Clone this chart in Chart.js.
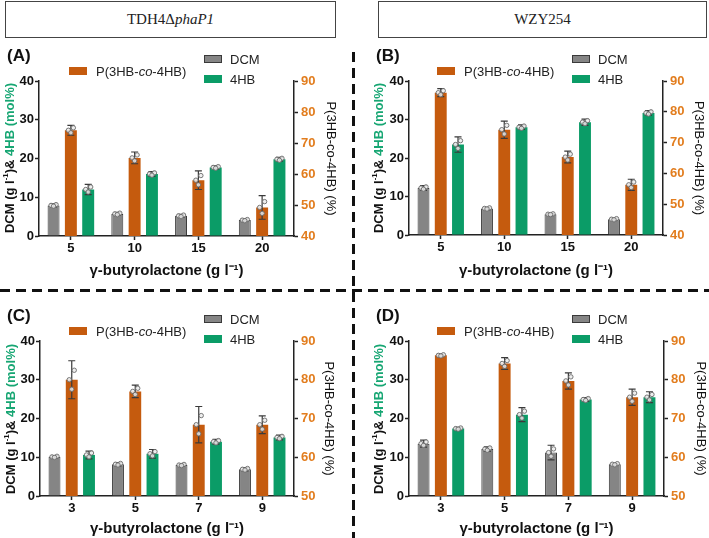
<!DOCTYPE html>
<html>
<head>
<meta charset="utf-8">
<script src="https://cdn.jsdelivr.net/npm/chart.js@4"></script>
<style>
  html,body{margin:0;padding:0;background:#fff;}
  #wrap{position:relative;width:709px;height:538px;background:#fff;overflow:hidden;font-family:'Liberation Sans',Arial,sans-serif;}
  canvas{position:absolute;}
  .hdr{position:absolute;border:1px solid #444;box-sizing:border-box;font-family:'Liberation Serif','Times New Roman',serif;font-size:15px;color:#222;display:flex;align-items:center;justify-content:center;}
  .plabel{position:absolute;font-weight:bold;font-size:17px;color:#111;}
  .ltitle{position:absolute;font-weight:bold;font-size:13px;color:#111;white-space:nowrap;transform:translate(-50%,-50%) rotate(-90deg);}
  .ltitle .g{color:#17a673;}
  .ltitle sup{font-size:8px;}
  .lbox{position:absolute;width:18px;height:8px;box-sizing:border-box;}
  .ltxt{position:absolute;font-size:13px;color:#222;white-space:nowrap;transform:translateY(-50%);}
  .vdash{position:absolute;width:3px;background:repeating-linear-gradient(to bottom,#111 0 10px,transparent 10px 16px);}
  .hdash{position:absolute;height:3px;background:repeating-linear-gradient(to right,#111 0 10px,transparent 10px 16px);}
</style>
</head>
<body>
<div id="wrap">
  <div class="hdr" style="left:5px;top:1px;width:331px;height:37px;">TDH4Δ<i>phaP1</i></div>
  <div class="hdr" style="left:378px;top:1px;width:329px;height:37px;">WZY254</div>

  <canvas id="cA" width="352" height="245" style="left:0px;top:40px;"></canvas>
  <canvas id="cB" width="339" height="245" style="left:370px;top:40px;"></canvas>
  <canvas id="cC" width="352" height="238" style="left:0px;top:300px;"></canvas>
  <canvas id="cD" width="339" height="238" style="left:370px;top:300px;"></canvas>

  <div class="vdash" style="left:352px;top:52px;height:486px;"></div>
  <div class="hdash" style="left:0px;top:289px;width:709px;"></div>
</div>
<script>
// ---------- data ----------
const dosesTop = ['5', '10', '15', '20'];
const dosesBottom = ['3', '5', '7', '9'];

// Panel A: TDH4ΔphaP1, 5-20 g/L
const dcmA = [7.9, 5.7, 5.2, 4.1];
const dcmErrA = [0.4, 0.4, 0.4, 0.3];
const phaA = [74.1, 65.2, 58.0, 49.2];
const phaErrA = [1.6, 1.9, 3.0, 3.8];
const hbA = [12.0, 16.0, 17.7, 19.8];
const hbErrA = [1.3, 0.6, 0.4, 0.5];

// Panel B: WZY254, 5-20 g/L
const dcmB = [12.2, 6.9, 5.4, 4.1];
const dcmErrB = [0.6, 0.3, 0.2, 0.3];
const phaB = [86.2, 74.2, 65.3, 56.3];
const phaErrB = [1.3, 2.8, 1.9, 1.8];
const hbB = [23.5, 28.0, 29.3, 31.7];
const hbErrB = [2.0, 0.6, 0.8, 0.6];

// Panel C: TDH4ΔphaP1, 3-9 g/L
const dcmC = [10.1, 8.2, 8.0, 6.9];
const dcmErrC = [0.3, 0.4, 0.3, 0.4];
const phaC = [80.0, 77.0, 68.4, 68.4];
const phaErrC = [4.9, 1.6, 4.7, 2.3];
const hbC = [10.6, 10.9, 14.0, 15.1];
const hbErrC = [1.0, 1.1, 0.6, 0.6];

// Panel D: WZY254, 3-9 g/L
const dcmD = [13.5, 12.1, 11.2, 8.2];
const dcmErrD = [0.9, 0.6, 1.9, 0.3];
const phaD = [86.3, 84.2, 79.7, 75.5];
const phaErrD = [0.3, 1.5, 2.1, 2.1];
const hbD = [17.4, 21.0, 24.9, 25.5];
const hbErrD = [0.3, 1.8, 0.5, 1.4];

const leftTicks = [0, 10, 20, 30, 40];

// ---------- styles ----------
const GRAY = '#858585', ORANGE = '#c55b0e', GREEN = '#0b9c67', TICKORANGE = '#e27d1e';
const FONT = "'Liberation Sans', Arial, sans-serif";

const errorBars = {
  id: 'errorBars',
  afterDatasetsDraw(chart) {
    const ctx = chart.ctx;
    chart.data.datasets.forEach((ds, i) => {
      const meta = chart.getDatasetMeta(i);
      const sc = chart.scales[ds.yAxisID];
      meta.data.forEach((bar, j) => {
        const v = ds.data[j], e = ds.errors[j];
        const x = bar.x;
        const yT = sc.getPixelForValue(v + e), yB = sc.getPixelForValue(v - e), yM = sc.getPixelForValue(v);
        ctx.save();
        ctx.strokeStyle = '#3a3a3a';
        ctx.lineWidth = 1.2;
        ctx.beginPath();
        ctx.moveTo(x, yT); ctx.lineTo(x, yB);
        ctx.moveTo(x - 3.5, yT); ctx.lineTo(x + 3.5, yT);
        ctx.moveTo(x - 3.5, yB); ctx.lineTo(x + 3.5, yB);
        ctx.stroke();
        ctx.fillStyle = 'rgba(235,235,235,0.85)';
        ctx.strokeStyle = '#6a6a6a';
        ctx.lineWidth = 0.9;
        [[-2.5, yM], [2.5, (yM + yT) / 2], [0, (yM + yB) / 2]].forEach(([dx, yy]) => {
          ctx.beginPath();
          ctx.arc(x + dx, yy, 2.2, 0, Math.PI * 2);
          ctx.fill(); ctx.stroke();
        });
        ctx.restore();
      });
    });
  }
};

function makePanel(id, labels, dcm, dcmErr, pha, phaErr, hb, hbErr, rightMin, g) {
  const tickFont = { family: FONT, size: 13, weight: 'bold' };
  const xTitleFont = { family: FONT, size: 15, weight: 'bold' };
  const rTitleFont = { family: FONT, size: 13, weight: 'normal' };
  const rightTicks = [];
  for (let t = rightMin; t <= 90; t += 10) rightTicks.push(t);
  new Chart(document.getElementById(id), {
    type: 'bar',
    data: {
      labels: labels,
      datasets: [
        { label: 'DCM', data: dcm, errors: dcmErr, yAxisID: 'y', backgroundColor: GRAY, borderColor: '#3a3a3a', borderWidth: 1 },
        { label: 'P(3HB-co-4HB)', data: pha, errors: phaErr, yAxisID: 'y1', backgroundColor: ORANGE, borderWidth: 0 },
        { label: '4HB', data: hb, errors: hbErr, yAxisID: 'y', backgroundColor: GREEN, borderWidth: 0 }
      ]
    },
    options: {
      responsive: false,
      animation: false,
      layout: { padding: { top: 41, left: 0, right: 0, bottom: 0 } },
      datasets: { bar: { categoryPercentage: 0.815, barPercentage: 0.69 } },
      plugins: { legend: { display: false }, tooltip: { enabled: false } },
      scales: {
        x: {
          grid: { drawOnChartArea: false, offset: false, drawTicks: true, tickLength: 4, tickColor: '#222', tickWidth: 1.5 },
          border: { color: '#222', width: 1.5 },
          ticks: { color: '#111', font: tickFont, padding: 1 },
          title: { display: true, text: 'γ-butyrolactone (g l⁻¹)', color: '#111', font: xTitleFont, padding: { top: 0, bottom: g.xtp } },
          afterFit(s) { s.height = g.xh; }
        },
        y: {
          position: 'left', min: 0, max: 40,
          afterBuildTicks(s) { s.ticks = leftTicks.map(v => ({ value: v })); },
          grid: { drawOnChartArea: false, drawTicks: true, tickLength: 4, tickColor: '#222', tickWidth: 1.5 },
          border: { color: '#222', width: 1.5 },
          ticks: { color: '#111', font: tickFont, padding: 1 },
          afterFit(s) { s.width = g.lw; }
        },
        y1: {
          position: 'right', min: rightMin, max: 90,
          afterBuildTicks(s) { s.ticks = rightTicks.map(v => ({ value: v })); },
          grid: { drawOnChartArea: false, drawTicks: true, tickLength: 4, tickColor: '#222', tickWidth: 1.5 },
          border: { color: '#222', width: 1.5 },
          ticks: { color: TICKORANGE, font: tickFont, padding: 3 },
          title: { display: true, text: 'P(3HB-co-4HB) (%)', color: '#111', font: rTitleFont, padding: { top: g.rtp, bottom: 0 } },
          afterFit(s) { s.width = g.rw; }
        }
      }
    },
    plugins: [errorBars]
  });
}

makePanel('cA', dosesTop, dcmA, dcmErrA, phaA, phaErrA, hbA, hbErrA, 40, { lw: 39, rw: 58, xh: 49, xtp: 5, rtp: 14 });
makePanel('cB', dosesTop, dcmB, dcmErrB, phaB, phaErrB, hbB, hbErrB, 40, { lw: 39, rw: 46, xh: 50, xtp: 5, rtp: 3 });
makePanel('cC', dosesBottom, dcmC, dcmErrC, phaC, phaErrC, hbC, hbErrC, 50, { lw: 40, rw: 58, xh: 42, xtp: 0, rtp: 16 });
makePanel('cD', dosesBottom, dcmD, dcmErrD, phaD, phaErrD, hbD, hbErrD, 50, { lw: 39, rw: 45, xh: 42, xtp: 0, rtp: 1 });

// ---------- html decorations: panel labels, left axis titles, legends ----------
const wrap = document.getElementById('wrap');
function add(html) { wrap.insertAdjacentHTML('beforeend', html); }
[['(A)', 7, 46], ['(B)', 376, 46], ['(C)', 7, 306], ['(D)', 376, 306]].forEach(([t, x, y]) => {
  add(`<div class="plabel" style="left:${x}px;top:${y}px;">${t}</div>`);
});
[[9, 158], [378, 158], [10, 419], [378, 419]].forEach(([x, y]) => {
  add(`<div class="ltitle" style="left:${x}px;top:${y}px;">DCM (g l<sup>-1</sup>)&amp; <span class="g">4HB (mol%)</span></div>`);
});
[[0, 0], [368, 0], [0, 260], [368, 260]].forEach(([dx, dy]) => {
  add(`<div class="lbox" style="left:${69 + dx}px;top:${67 + dy}px;background:${ORANGE};"></div>`);
  add(`<div class="ltxt" style="left:${96 + dx}px;top:${71 + dy}px;">P(3HB-<i>co</i>-4HB)</div>`);
  add(`<div class="lbox" style="left:${204 + dx}px;top:${55 + dy}px;background:${GRAY};border:1px solid #3a3a3a;"></div>`);
  add(`<div class="ltxt" style="left:${230 + dx}px;top:${59 + dy}px;">DCM</div>`);
  add(`<div class="lbox" style="left:${204 + dx}px;top:${75 + dy}px;background:${GREEN};"></div>`);
  add(`<div class="ltxt" style="left:${230 + dx}px;top:${79 + dy}px;">4HB</div>`);
});
</script>
</body>
</html>
